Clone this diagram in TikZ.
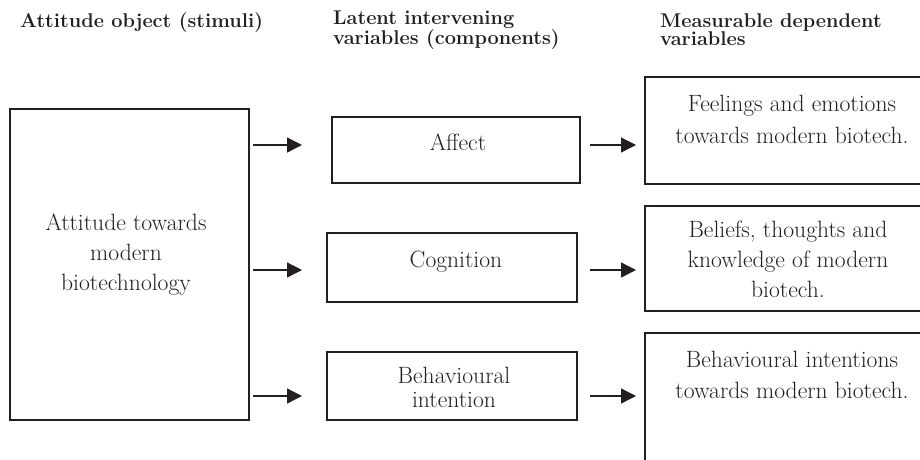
\documentclass[tikz,border=0pt]{standalone}
\usetikzlibrary{arrows.meta}
\definecolor{ink}{HTML}{231F20}
\begin{document}
\begin{tikzpicture}[x=1pt,y=-1pt,
  box/.style={draw=ink, line width=1.3pt, inner sep=0pt},
  body/.style={text=ink, font=\fontsize{23.6}{30}\selectfont, align=center, inner sep=0pt, anchor=base},
  head/.style={text=ink, font=\fontsize{19.9}{18}\selectfont\bfseries, align=left, anchor=base west, inner sep=0pt},
  arr/.style={draw=ink, line width=1.3pt, -{Triangle[length=15pt,width=15pt]}}
]
\useasboundingbox (0,0) rectangle (920,459);
\clip (0,0) rectangle (920,459);

% headers (anchor = baseline of last line)
\node[head] (h1) at (20,27) {Attitude object (stimuli)};
\node[head] (h2) at (333,44) {Latent intervening\\variables (components)};
\node[head] (h3) at (660,45) {Measurable dependent\\variables};

% left box
\node[box, minimum width=239pt, minimum height=311pt] (obj) at (129.5,264.5) {};
\node[body] (objt) at (126,290) {Attitude towards\\modern\\biotechnology};

% middle boxes
\node[box, minimum width=248pt, minimum height=66pt] (aff) at (456,150) {};
\node[body] (afft) at (458,150) {Affect};
\node[box, minimum width=250pt, minimum height=69pt] (cog) at (452,267.5) {};
\node[body] (cogt) at (456,267) {Cognition};
\node[box, minimum width=250pt, minimum height=68pt] (beh) at (452,386) {};
\node[body, font=\fontsize{23.6}{24}\selectfont] (beht) at (454,407) {Behavioural\\intention};

% right boxes (run past the right edge)
\node[box, minimum width=315pt, minimum height=107pt] (r1) at (802.5,130.5) {};
\node[body, font=\fontsize{23.6}{32}\selectfont] (r1t) at (792,143) {Feelings and emotions\\towards modern biotech.};
\node[box, minimum width=315pt, minimum height=105pt] (r2) at (802.5,258.5) {};
\node[body] (r2t) at (788,297) {Beliefs, thoughts and\\knowledge of modern\\biotech.};
\node[box, minimum width=315pt, minimum height=157pt] (r3) at (802.5,411.5) {};
\node[body, font=\fontsize{23.6}{31}\selectfont] (r3t) at (792,398) {Behavioural intentions\\towards modern biotech.};

% arrow ends
\coordinate (a1s) at (253,145); \coordinate (a1e) at (302,145);
\coordinate (a2s) at (253,270); \coordinate (a2e) at (302,270);
\coordinate (a3s) at (253,396); \coordinate (a3e) at (302,396);
\coordinate (b1s) at (590,145); \coordinate (b1e) at (636,145);
\coordinate (b2s) at (590,270); \coordinate (b2e) at (636,270);
\coordinate (b3s) at (590,396); \coordinate (b3e) at (636,396);

\draw[arr] (a1s) -- (a1e);
\draw[arr] (a2s) -- (a2e);
\draw[arr] (a3s) -- (a3e);
\draw[arr] (b1s) -- (b1e);
\draw[arr] (b2s) -- (b2e);
\draw[arr] (b3s) -- (b3e);
\end{tikzpicture}
\end{document}
